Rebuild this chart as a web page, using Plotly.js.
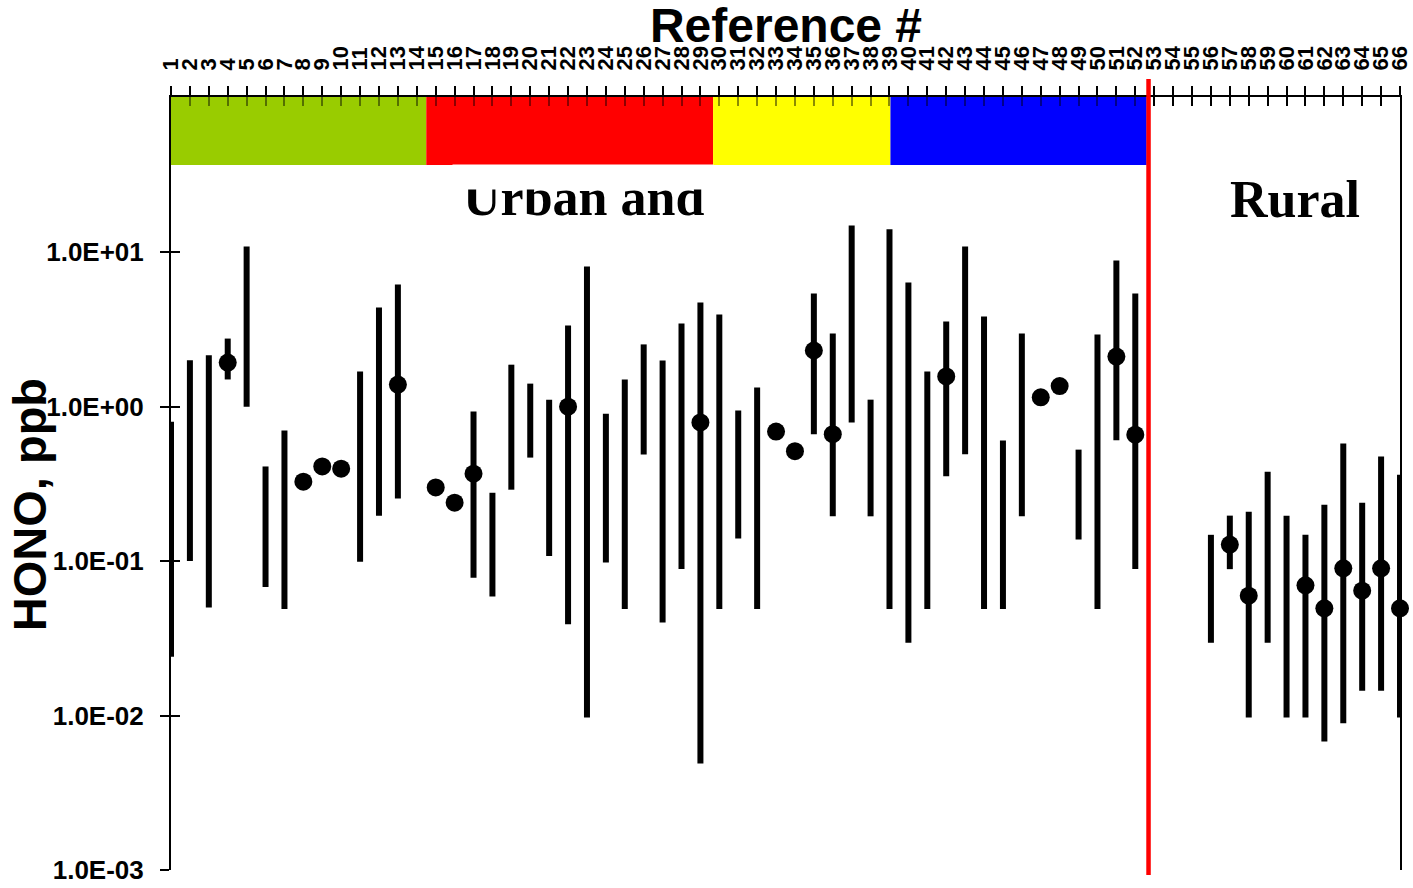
<!DOCTYPE html>
<html>
<head>
<meta charset="utf-8">
<script src="https://cdn.plot.ly/plotly-3.0.1.min.js"></script>
<style>
  html, body { margin: 0; padding: 0; background: #ffffff; }
  #chart { width: 1413px; height: 888px; }
</style>
</head>
<body>
<div id="chart"></div>
<script>
// ---- data ----
const refs = Array.from({length: 66}, (_, i) => i + 1);
const tickLabels = refs.map(String);

// lower / upper end of each reported range (ppb); null = no range shown
const lowVals = [
  0.024, 0.10, 0.05, 1.5, 1.0, 0.068, 0.049, null, null, null,
  0.099, 0.197, 0.254, null, null, null, 0.078, 0.059, 0.29, 0.468,
  0.108, 0.039, 0.0097, 0.098, 0.049, 0.49, 0.040, 0.089, 0.0049, 0.049,
  0.14, 0.049, null, null, 0.664, 0.195, 0.79, 0.195, 0.049, 0.0296,
  0.049, 0.354, 0.492, 0.049, 0.049, 0.195, null, null, 0.138, 0.049,
  0.605, 0.089, null, null, null, 0.0296, 0.0887, 0.0097, 0.0296, 0.0097,
  0.0097, 0.0068, 0.0089, 0.0145, 0.0145, 0.0097
];
const highVals = [
  0.80, 2.0, 2.15, 2.76, 10.9, 0.41, 0.70, null, null, null,
  1.69, 4.39, 6.18, null, null, null, 0.93, 0.277, 1.87, 1.41,
  1.11, 3.35, 8.09, 0.90, 1.50, 2.53, 1.99, 3.46, 4.73, 3.95,
  0.944, 1.33, null, null, 5.41, 2.98, 14.9, 1.11, 14.1, 6.37,
  1.69, 3.56, 10.9, 3.84, 0.603, 2.98, null, null, 0.527, 2.93,
  8.85, 5.41, null, null, null, 0.148, 0.197, 0.209, 0.379, 0.197,
  0.148, 0.232, 0.577, 0.239, 0.475, 0.363
];
// mean / typical value (dot); null = no dot
const meanVals = [
  null, null, null, 1.93, null, null, null, 0.327, 0.41, 0.397,
  null, null, 1.39, null, 0.30, 0.239, 0.368, null, null, null,
  null, 1.0, null, null, null, null, null, null, 0.79, null,
  null, null, 0.69, 0.515, 2.31, 0.664, null, null, null, null,
  null, 1.57, null, null, null, null, 1.15, 1.36, null, null,
  2.11, 0.659, null, null, null, null, 0.128, 0.0597, null, null,
  0.0697, 0.0495, 0.0898, 0.0643, 0.0898, 0.0495
];

// coloured category band along the top (in reference-number units)
const bandEdges = [1, 14.5, 29.67, 39.05, 52.6];
const bandColors = ['#99CC00', '#FF0000', '#FFFF00', '#0000FF'];
const separatorRef = 52.7;   // urban | rural divider

const yTickVals = [0.001, 0.01, 0.1, 1, 10];
const yTickText = ['1.0E-03', '1.0E-02', '1.0E-01', '1.0E+00', '1.0E+01'];

const groupLabels = ['Urban and', 'Rural'];
const groupLabelRefs = [22.8, 60.45];

// ---- build traces ----
const centers = refs.map((r, i) => {
  if (lowVals[i] == null) return meanVals[i];
  return meanVals[i] != null ? meanVals[i] : Math.sqrt(lowVals[i] * highVals[i]);
});
const errPlus = refs.map((r, i) => (lowVals[i] == null || centers[i] == null) ? 0 : highVals[i] - centers[i]);
const errMinus = refs.map((r, i) => (lowVals[i] == null || centers[i] == null) ? 0 : centers[i] - lowVals[i]);

const rangeTrace = {
  type: 'scatter', mode: 'markers',
  x: refs, y: centers,
  marker: {size: 1, color: 'rgba(0,0,0,0)'},
  error_y: {type: 'data', symmetric: false, array: errPlus, arrayminus: errMinus,
            color: '#000000', thickness: 6, width: 0},
  cliponaxis: false, showlegend: false, hoverinfo: 'skip'
};
const meanTrace = {
  type: 'scatter', mode: 'markers',
  x: refs, y: meanVals,
  marker: {size: 18, color: '#000000', line: {width: 0}},
  cliponaxis: false, showlegend: false
};
const urbanRefs = refs.filter(r => r < separatorRef);
const ruralRefs = refs.filter(r => r > separatorRef);
const dummyX2 = {type: 'scatter', x: [], y: [], xaxis: 'x2', yaxis: 'y', showlegend: false};
const dummyX3 = {type: 'scatter', x: [], y: [], xaxis: 'x3', yaxis: 'y', showlegend: false};
const dummyY2 = {type: 'scatter', x: [], y: [], xaxis: 'x', yaxis: 'y2', showlegend: false};

const sans = 'Liberation Sans, Arial, sans-serif';
const serif = 'Liberation Serif, Times New Roman, serif';

const shapes = bandColors.map((c, i) => ({
  type: 'rect', layer: 'below', xref: 'x', yref: 'paper',
  x0: bandEdges[i], x1: bandEdges[i + 1], y0: 0.912, y1: 1,
  fillcolor: c, line: {width: 0}
}));
shapes.push({
  type: 'line', layer: 'above', xref: 'x', yref: 'paper',
  x0: separatorRef, x1: separatorRef, y0: -0.0065, y1: 1.0233,
  line: {color: '#FF0000', width: 4.5}
});

const xRange = [1, 66];
const yRange = [-3, 2.005];

const layout = {
  width: 1413, height: 888,
  margin: {l: 171, r: 13, t: 97, b: 18, pad: 0},
  paper_bgcolor: '#ffffff', plot_bgcolor: 'rgba(0,0,0,0)',
  showlegend: false,
  title: {text: 'Reference #', font: {family: sans, size: 48, weight: 'bold', color: '#000'},
          x: 0.5004, xref: 'paper', xanchor: 'center', y: 0.972, yref: 'container', yanchor: 'middle'},
  xaxis: {
    range: xRange, side: 'top', anchor: 'y',
    tickvals: refs, ticktext: tickLabels, tickangle: -90,
    tickfont: {family: sans, size: 22, weight: 'bold', color: '#000'},
    ticks: 'outside', ticklen: 9, tickwidth: 2, tickcolor: '#000',
    ticklabelstandoff: 11,
    showline: true, linewidth: 2, linecolor: '#000',
    showgrid: false, zeroline: false
  },
  xaxis2: {
    range: xRange, side: 'top', overlaying: 'x', anchor: 'y',
    tickvals: urbanRefs, showticklabels: false,
    ticks: 'inside', ticklen: 9, tickwidth: 2, tickcolor: 'rgba(0,0,0,0.45)',
    showline: false, showgrid: false, zeroline: false
  },
  xaxis3: {
    range: xRange, side: 'top', overlaying: 'x', anchor: 'y',
    tickvals: ruralRefs, showticklabels: false,
    ticks: 'inside', ticklen: 9, tickwidth: 2, tickcolor: '#000',
    showline: false, showgrid: false, zeroline: false
  },
  yaxis: {
    type: 'log', range: yRange, anchor: 'x',
    tickvals: yTickVals, ticktext: yTickText,
    tickfont: {family: sans, size: 26, weight: 'bold', color: '#000'},
    ticks: 'outside', ticklen: 9, tickwidth: 2, tickcolor: '#000',
    ticklabelstandoff: 11,
    showline: true, linewidth: 2, linecolor: '#000', mirror: true,
    showgrid: false, zeroline: false,
    automargin: false
  },
  yaxis2: {
    type: 'log', range: yRange, overlaying: 'y', anchor: 'x', side: 'left',
    tickvals: yTickVals, showticklabels: false,
    ticks: 'inside', ticklen: 9, tickwidth: 2, tickcolor: '#000',
    showline: false, showgrid: false, zeroline: false
  },
  shapes: shapes,
  annotations: [
    {text: 'HONO, ppb', xref: 'paper', yref: 'paper', x: -0.1155, y: 0.472,
     xanchor: 'center', yanchor: 'middle', textangle: -90, showarrow: false,
     font: {family: sans, size: 47, weight: 'bold', color: '#000'}},
    {text: groupLabels[0], xref: 'x', yref: 'paper', x: groupLabelRefs[0], y: 0.8706,
     xanchor: 'center', yanchor: 'middle', showarrow: false,
     font: {family: serif, size: 52, weight: 'bold', color: '#000'}},
    {text: ' ', xref: 'x', yref: 'paper', x: groupLabelRefs[0], y: 0.8965,
     xanchor: 'center', yanchor: 'middle', showarrow: false,
     width: 260, height: 24, bgcolor: '#ffffff', borderpad: 0,
     font: {family: serif, size: 10, color: '#ffffff'}},
    {text: groupLabels[1], xref: 'x', yref: 'paper', x: groupLabelRefs[1], y: 0.8668,
     xanchor: 'center', yanchor: 'middle', showarrow: false,
     font: {family: serif, size: 52, weight: 'bold', color: '#000'}}
  ]
};

Plotly.newPlot('chart', [dummyX2, dummyX3, dummyY2, rangeTrace, meanTrace], layout,
  {displayModeBar: false, staticPlot: true});
</script>
</body>
</html>
